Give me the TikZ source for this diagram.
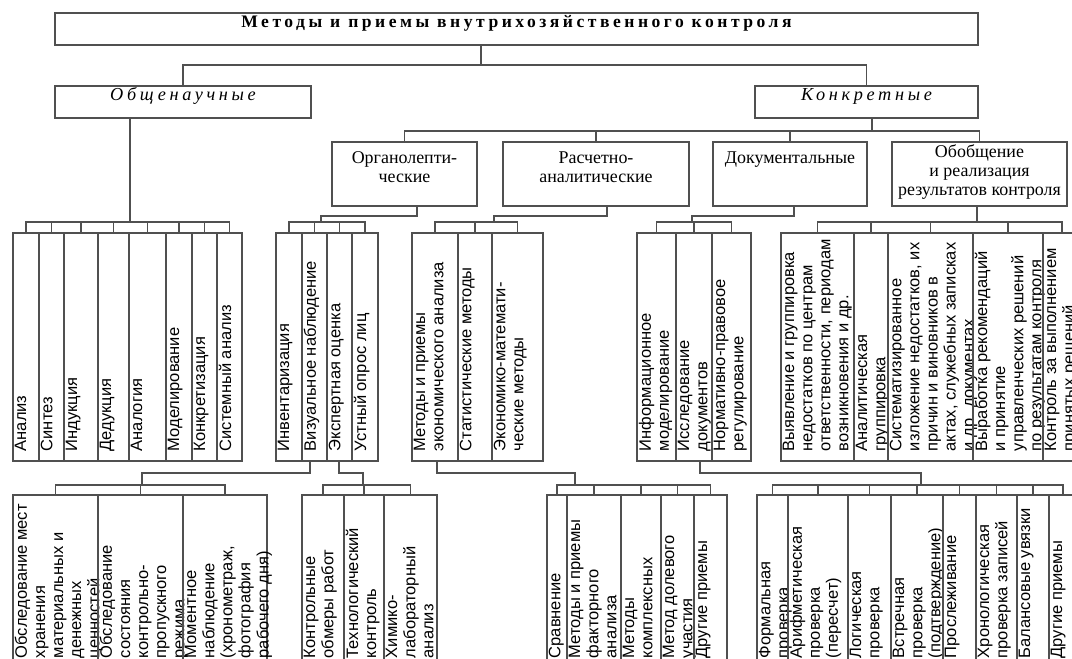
\documentclass[tikz,border=0pt]{standalone}
\usepackage{fontspec}
\setmainfont{Liberation Serif}
\newfontfamily\colfont{Liberation Sans}
\newfontfamily\spacedfont[LetterSpace=20]{Liberation Serif}
\usetikzlibrary{fit,calc,positioning}
\definecolor{linegray}{RGB}{80,80,80}

\tikzset{
  boxline/.style={draw=linegray, line width=0.6pt, inner sep=0pt},
  link/.style={draw=linegray, line width=0.6pt},
  headtext/.style={anchor=north, align=center, inner sep=0pt,
    font=\fontsize{10.2}{10.9}\selectfont},
  coltext/.style={rotate=90, anchor=north west, align=left,
    inner xsep=0.2cm, inner ysep=0.04cm,
    font=\colfont\fontsize{9.4}{10.3}\selectfont},
}

% one upright strip: name, x1, x2, y1, y2, text
\newcommand{\colnode}[6]{%
  \node[boxline, fit={(#2,#4) (#3,#5)}] (#1) {};
  \node[coltext] (#1-t) at (#1.south west) {#6};}

\begin{document}
\begin{tikzpicture}[x=0.02cm, y=-0.02cm]
  \useasboundingbox (0,0) rectangle (1072,659);
  \clip (0,0) rectangle (1072,659);

  % Title
  \node[boxline, fit={(55,13) (978,45)},
    font=\spacedfont\bfseries\fontsize{10}{12}\selectfont] (title)
    {Методы и приемы внутрихозяйственного контроля};

  % Two kinds
  \node[boxline, fit={(55,86) (311,118)},
    font=\spacedfont\itshape\fontsize{10.4}{12}\selectfont] (general) {Общенаучные};
  \node[boxline, fit={(755,86) (978,118)},
    font=\spacedfont\itshape\fontsize{10.4}{12}\selectfont] (specific) {Конкретные};
  \coordinate (t1) at (481,65);
  \draw[link] (title.south -| t1) -- (t1) -| (general.north);
  \draw[link] (t1) -| (specific.north);

  % Specific methods
  \node[boxline, fit={(332,142) (477,206)}] (organ) {};
  \node[boxline, fit={(503,142) (689,206)}] (rasch) {};
  \node[boxline, fit={(713,142) (867,206)}] (docum) {};
  \node[boxline, fit={(892,142) (1067,206)}] (summary) {};
  \node[headtext] (organ-t) at ([yshift=-0.2cm]organ.north) {Органолепти-\\ческие};
  \node[headtext] (rasch-t) at ([yshift=-0.2cm]rasch.north) {Расчетно-\\аналитические};
  \node[headtext] (docum-t) at ([yshift=-0.2cm]docum.north) {Документальные};
  \node[headtext] (summary-t) at ([yshift=-0.06cm]summary.north)
    {Обобщение\\и реализация\\результатов контроля};
  \coordinate (t2) at (872,131);
  \draw[link] (specific.south -| t2) -- (t2);
  \foreach \n in {organ,rasch,docum,summary}
    \draw[link] (t2) -| (\n.north);

  % General methods
  \colnode{analiz}{13}{39}{233}{461}{Анализ}
  \colnode{sintez}{39}{64}{233}{461}{Синтез}
  \colnode{indukc}{64}{98}{233}{461}{Индукция}
  \colnode{deduk}{98}{129}{233}{461}{Дедукция}
  \colnode{analog}{129}{166}{233}{461}{Аналогия}
  \colnode{model}{166}{192}{233}{461}{Моделирование}
  \colnode{konkr}{192}{217}{233}{461}{Конкретизация}
  \colnode{system}{217}{242}{233}{461}{Системный анализ}
  \coordinate (g1) at (130,222);
  \draw[link] (general.south -| g1) -- (g1);
  \foreach \n in {analiz,sintez,indukc,deduk,analog,model,konkr,system}
    \draw[link] (g1) -| (\n.north);

  % Organoleptic
  \colnode{invent}{276}{302}{233}{461}{Инвентаризация}
  \colnode{visual}{302}{327}{233}{461}{Визуальное наблюдение}
  \colnode{expert}{327}{352}{233}{461}{Экспертная оценка}
  \colnode{opros}{352}{378}{233}{461}{Устный опрос лиц}
  \coordinate (o1) at (417,216);
  \coordinate (o2) at (321,222);
  \draw[link] (organ.south -| o1) -- (o1) -| (o2);
  \foreach \n in {invent,visual,expert,opros}
    \draw[link] (o2) -| (\n.north);

  % Calculation
  \colnode{econ}{412}{458}{233}{461}{Методы и приемы\\экономического анализа}
  \colnode{stat}{458}{492}{233}{461}{Статистические методы}
  \colnode{matem}{492}{543}{233}{461}{Экономико-математи-\\ческие методы}
  \coordinate (r1) at (607,216);
  \coordinate (r2) at (494,222);
  \draw[link] (rasch.south -| r1) -- (r1) -| (r2);
  \foreach \n in {econ,stat,matem}
    \draw[link] (r2) -| (\n.north);

  % Documentary
  \colnode{infmod}{637}{676}{233}{461}{Информационное\\моделирование}
  \colnode{issled}{676}{712}{233}{461}{Исследование\\документов}
  \colnode{norm}{712}{751}{233}{461}{Нормативно-правовое\\регулирование}
  \coordinate (d1) at (794,216);
  \coordinate (d2) at (692,222);
  \draw[link] (docum.south -| d1) -- (d1) -| (d2);
  \foreach \n in {infmod,issled,norm}
    \draw[link] (d2) -| (\n.north);

  % Summary
  \colnode{vyyav}{781}{854}{233}{461}{Выявление и группировка\\недостатков по центрам\\ответственности, периодам\\возникновения и др.}
  \colnode{grupp}{854}{888}{233}{461}{Аналитическая\\группировка}
  \colnode{sistem}{888}{973}{233}{461}{Систематизированное\\изложение недостатков, их\\причин и виновников в\\актах, служебных записках\\и др. документах}
  \colnode{vyrab}{973}{1043}{233}{461}{Выработка рекомендаций\\и принятие\\управленческих решений\\по результатам контроля}
  \colnode{kontr}{1043}{1081}{233}{461}{Контроль за выполнением\\принятых решений}
  \coordinate (s1) at (977,222);
  \draw[link] (summary.south -| s1) -- (s1);
  \foreach \n in {vyyav,grupp,sistem,vyrab,kontr}
    \draw[link] (s1) -| (\n.north);

  % Visual observation
  \colnode{mest}{13}{98}{495}{668}{Обследование мест\\хранения\\материальных и\\денежных\\ценностей}
  \colnode{propusk}{98}{183}{495}{668}{Обследование\\состояния\\контрольно-\\пропускного\\режима}
  \colnode{moment}{183}{267}{495}{668}{Моментное\\наблюдение\\(хронометраж,\\фотография\\рабочего дня)}
  \coordinate (v1) at (310,473);
  \coordinate (v2) at (142,485);
  \draw[link] (visual.south -| v1) -- (v1) -| (v2);
  \foreach \n in {mest,propusk,moment}
    \draw[link] (v2) -| (\n.north);

  % Expert estimate
  \colnode{obmer}{302}{344}{495}{668}{Контрольные\\обмеры работ}
  \colnode{tehn}{344}{384}{495}{668}{Технологический\\контроль}
  \colnode{himlab}{384}{437}{495}{668}{Химико-\\лабораторный\\анализ}
  \coordinate (e1) at (339,473);
  \coordinate (e2) at (363,485);
  \draw[link] (expert.south -| e1) -- (e1) -| (e2);
  \foreach \n in {obmer,tehn,himlab}
    \draw[link] (e2) -| (\n.north);

  % Economic analysis
  \colnode{sravn}{547}{567}{495}{668}{Сравнение}
  \colnode{faktor}{567}{621}{495}{668}{Методы и приемы\\факторного\\анализа}
  \colnode{kompl}{621}{661}{495}{668}{Методы\\комплексных}
  \colnode{dolev}{661}{694}{495}{668}{Метод долевого\\участия}
  \colnode{drugA}{694}{727}{495}{668}{Другие приемы}
  \coordinate (m1) at (437,473);
  \coordinate (m2) at (575,485);
  \draw[link] (econ.south -| m1) -- (m1) -| (m2);
  \foreach \n in {sravn,faktor,kompl,dolev,drugA}
    \draw[link] (m2) -| (\n.north);

  % Document checks
  \colnode{formal}{757}{788}{495}{668}{Формальная\\проверка}
  \colnode{arifm}{788}{848}{495}{668}{Арифметическая\\проверка\\(пересчет)}
  \colnode{logic}{848}{891}{495}{668}{Логическая\\проверка}
  \colnode{vstrech}{891}{943}{495}{668}{Встречная\\проверка\\(подтверждение)}
  \colnode{prosl}{943}{976}{495}{668}{Прослеживание}
  \colnode{hronol}{976}{1017}{495}{668}{Хронологическая\\проверка записей}
  \colnode{balans}{1017}{1049}{495}{668}{Балансовые увязки}
  \colnode{drugB}{1049}{1077}{495}{668}{Другие приемы}
  \coordinate (i1) at (700,473);
  \coordinate (i2) at (921,485);
  \draw[link] (issled.south -| i1) -- (i1) -| (i2);
  \foreach \n in {formal,arifm,logic,vstrech,prosl,hronol,balans,drugB}
    \draw[link] (i2) -| (\n.north);
\end{tikzpicture}
\end{document}
